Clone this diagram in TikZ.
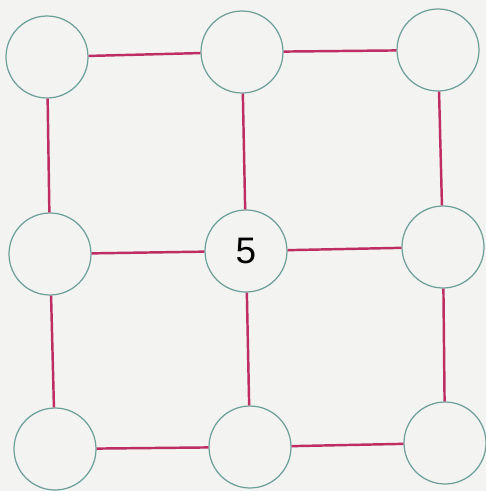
\documentclass[tikz,border=0pt]{standalone}
\usepackage{fontspec}
\setmainfont{Liberation Sans}
\definecolor{paper}{RGB}{243,243,241}
\definecolor{ring}{RGB}{110,160,155}
\definecolor{link}{RGB}{190,45,100}
\begin{document}
\begin{tikzpicture}[x=0.02cm,y=-0.02cm,
  spot/.style={circle,draw=ring,line width=0.7pt,minimum size=1.64cm,inner sep=0pt},
  link/.style={draw=link,line width=1.4pt}]
\fill[paper] (0,0) rectangle (486,491);
\useasboundingbox (0,0) rectangle (486,491);

\node[spot] (nw) at (47,57) {};
\node[spot] (n) at (242,52) {};
\node[spot] (ne) at (438,50) {};
\node[spot] (w) at (50,254) {};
\node[spot,font=\fontsize{21}{21}\selectfont] (c) at (246,251) {5};
\node[spot] (e) at (443,247) {};
\node[spot] (sw) at (55,449) {};
\node[spot] (s) at (250,447) {};
\node[spot] (se) at (445,443) {};

\draw[link] (nw)--(n);
\draw[link] (n)--(ne);
\draw[link] (w)--(c);
\draw[link] (c)--(e);
\draw[link] (sw)--(s);
\draw[link] (s)--(se);
\draw[link] (nw)--(w);
\draw[link] (w)--(sw);
\draw[link] (n)--(c);
\draw[link] (c)--(s);
\draw[link] (ne)--(e);
\draw[link] (e)--(se);
\end{tikzpicture}
\end{document}
